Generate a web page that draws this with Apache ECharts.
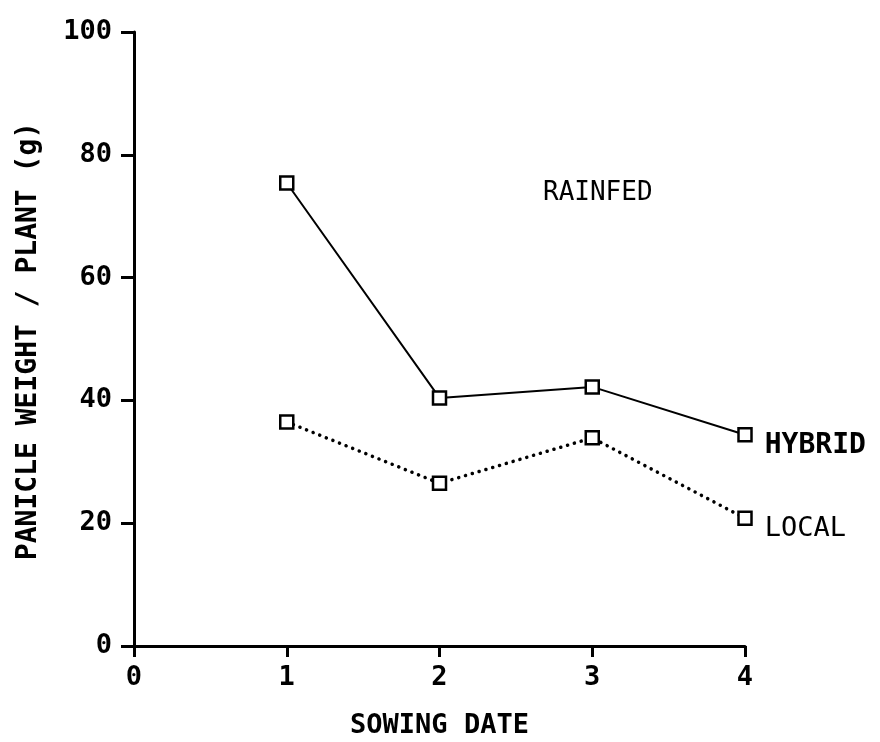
<!DOCTYPE html>
<html>
<head>
<meta charset="utf-8">
<script src="https://cdn.jsdelivr.net/npm/echarts@6/dist/echarts.min.js"></script>
<style>
  html, body { margin: 0; padding: 0; background: #fff; }
  #chart { width: 880px; height: 742px; }
</style>
</head>
<body>
<div id="chart"></div>
<script>
// Sowing dates and panicle weight per plant (g)
const sowingDates = [1, 2, 3, 4];
const hybridWeight = [75.4, 40.4, 42.2, 34.4];
const localWeight = [36.5, 26.5, 33.9, 20.8];
const seriesNames = ['HYBRID', 'LOCAL'];
const conditionLabel = 'RAINFED';
const xTitle = 'SOWING DATE';
const yTitle = 'PANICLE WEIGHT / PLANT (g)';

const FONT = '"DejaVu Sans Mono", monospace';
const INK = '#000';

function pairs(xs, ys) {
  return xs.map((x, i) => [x, ys[i]]);
}

function withEndLabel(points, text, weight, size) {
  return points.map((p, i) => {
    if (i !== points.length - 1) return p;
    return {
      value: p,
      label: {
        show: true,
        formatter: text,
        position: 'right',
        distance: 12,
        offset: [0, 11],
        color: INK,
        fontFamily: FONT,
        fontSize: size,
        fontWeight: weight
      }
    };
  });
}

const markerStyle = {
  color: '#fff',
  borderColor: INK,
  borderWidth: 2.5
};

const chart = echarts.init(document.getElementById('chart'), null, { renderer: 'canvas' });

chart.setOption({
  backgroundColor: '#fff',
  animation: false,
  grid: { left: 134, right: 135, top: 32, bottom: 96, containLabel: false, outerBoundsMode: 'none' },
  xAxis: {
    type: 'value',
    min: 0,
    max: 4,
    interval: 1,
    name: xTitle,
    nameLocation: 'middle',
    nameGap: 66,
    nameTextStyle: { color: INK, fontFamily: FONT, fontSize: 27, fontWeight: 'bold' },
    axisLine: { show: true, lineStyle: { color: INK, width: 3 } },
    axisTick: { show: true, length: 11, lineStyle: { color: INK, width: 3 } },
    axisLabel: { color: INK, fontFamily: FONT, fontSize: 27, fontWeight: 'bold', margin: 18 },
    splitLine: { show: false }
  },
  yAxis: {
    type: 'value',
    min: 0,
    max: 100,
    interval: 20,
    axisLine: { show: true, lineStyle: { color: INK, width: 3 } },
    axisTick: { show: true, length: 13, lineStyle: { color: INK, width: 3 } },
    axisLabel: { color: INK, fontFamily: FONT, fontSize: 27, fontWeight: 'bold', margin: 22 },
    splitLine: { show: false }
  },
  graphic: [
    {
      type: 'text',
      x: 29,
      y: 341,
      rotation: Math.PI / 2,
      style: {
        text: yTitle,
        fill: INK,
        font: 'bold 28px ' + FONT,
        align: 'center',
        verticalAlign: 'middle'
      }
    },
    {
      type: 'text',
      left: 543,
      top: 180,
      style: {
        text: conditionLabel,
        fill: INK,
        font: '26px ' + FONT
      }
    }
  ],
  series: [
    {
      name: seriesNames[0],
      type: 'line',
      data: withEndLabel(pairs(sowingDates, hybridWeight), seriesNames[0], 'bold', 28),
      symbol: 'rect',
      symbolSize: 13,
      showAllSymbol: true,
      itemStyle: markerStyle,
      lineStyle: { color: INK, width: 2 },
      z: 3
    },
    {
      name: seriesNames[1],
      type: 'line',
      data: withEndLabel(pairs(sowingDates, localWeight), seriesNames[1], 'normal', 27),
      symbol: 'rect',
      symbolSize: 13,
      showAllSymbol: true,
      itemStyle: markerStyle,
      lineStyle: { color: INK, width: 3.5, type: [0.1, 7], cap: 'round' },
      z: 3
    }
  ]
});
</script>
</body>
</html>
